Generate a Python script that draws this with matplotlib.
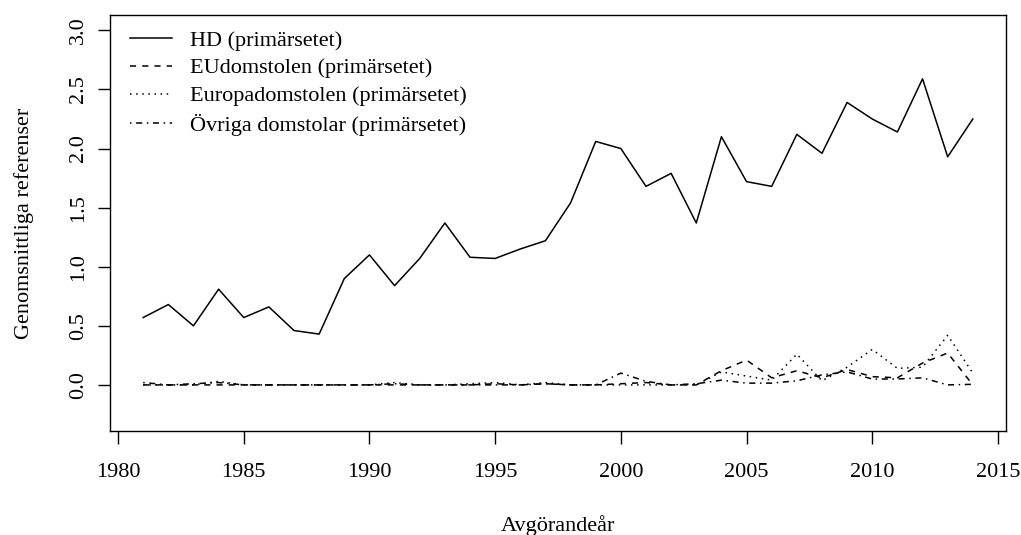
import matplotlib
matplotlib.use("Agg")
import matplotlib.pyplot as plt

years = list(range(1981, 2015))

hd = [0.57, 0.68, 0.50, 0.81, 0.57, 0.66, 0.46, 0.43, 0.90, 1.10,
      0.84, 1.07, 1.37, 1.08, 1.07, 1.15, 1.22, 1.54, 2.06, 2.00,
      1.68, 1.79, 1.37, 2.10, 1.72, 1.68, 2.12, 1.96, 2.39, 2.25,
      2.14, 2.59, 1.93, 2.25]

eu = [0.00, 0.00, 0.00, 0.00, 0.00, 0.00, 0.00, 0.00, 0.00, 0.00,
      0.00, 0.00, 0.00, 0.00, 0.01, 0.00, 0.01, 0.00, 0.00, 0.01,
      0.02, 0.00, 0.00, 0.12, 0.21, 0.06, 0.12, 0.06, 0.13, 0.07,
      0.06, 0.185, 0.27, 0.00]

europa = [0.00, 0.00, 0.00, 0.03, 0.00, 0.00, 0.00, 0.00, 0.00, 0.00,
          0.02, 0.00, 0.00, 0.01, 0.02, 0.00, 0.02, 0.00, 0.00, 0.00,
          0.00, 0.00, 0.00, 0.11, 0.075, 0.04, 0.26, 0.035, 0.15, 0.30,
          0.14, 0.15, 0.42, 0.10]

ovriga = [0.02, 0.00, 0.01, 0.02, 0.00, 0.00, 0.00, 0.00, 0.00, 0.00,
          0.01, 0.00, 0.00, 0.00, 0.00, 0.00, 0.01, 0.00, 0.00, 0.10,
          0.03, 0.00, 0.01, 0.04, 0.015, 0.015, 0.035, 0.085, 0.11, 0.05,
          0.05, 0.06, 0.00, 0.005]

labels = ["HD (primärsetet)", "EUdomstolen (primärsetet)",
          "Europadomstolen (primärsetet)", "Övriga domstolar (primärsetet)"]

xticks = [1980, 1985, 1990, 1995, 2000, 2005, 2010, 2015]
yticks = [0.0, 0.5, 1.0, 1.5, 2.0, 2.5, 3.0]

plt.rcParams['font.family'] = ['Liberation Serif', 'DejaVu Serif']

fig = plt.figure(figsize=(10.21, 5.35), dpi=100)
ax = fig.add_axes([110/1021, 1 - 431/535, (1006-110)/1021, (431-15)/535])

lw = 1.1
ax.plot(years, hd, color='black', lw=lw, linestyle='-', label=labels[0])
ax.plot(years, eu, color='black', lw=lw, linestyle=(0, (4, 4)), label=labels[1])
ax.plot(years, europa, color='black', lw=lw, linestyle=(0, (1, 3)), label=labels[2])
ax.plot(years, ovriga, color='black', lw=lw, linestyle=(0, (1, 3, 4, 3)), label=labels[3])

ax.set_xlim(1979.68, 2015.32)
ax.set_ylim(-0.39, 3.13)
ax.set_xticks(xticks)
ax.set_xticklabels([str(x) for x in xticks])
ax.set_yticks(yticks)
ax.set_yticklabels([f"{y:.1f}" for y in yticks], rotation=90, va='center')

fs = 16
ax.tick_params(axis='both', direction='out', length=9, width=1.0, labelsize=fs)
ax.tick_params(axis='x', pad=14)
ax.tick_params(axis='y', pad=7)
for s in ax.spines.values():
    s.set_linewidth(1.0)

ax.set_xlabel("Avgörandeår", fontsize=fs, labelpad=24)
ax.set_ylabel("Genomsnittliga referenser", fontsize=fs, labelpad=25)

ax.legend(loc='upper left', frameon=False, fontsize=fs, handlelength=1.9,
          handletextpad=0.8, labelspacing=0.33, borderaxespad=0.0, borderpad=0.0,
          bbox_to_anchor=(20/896, 1 - 15/416))

fig.savefig("out.png", dpi=100)
